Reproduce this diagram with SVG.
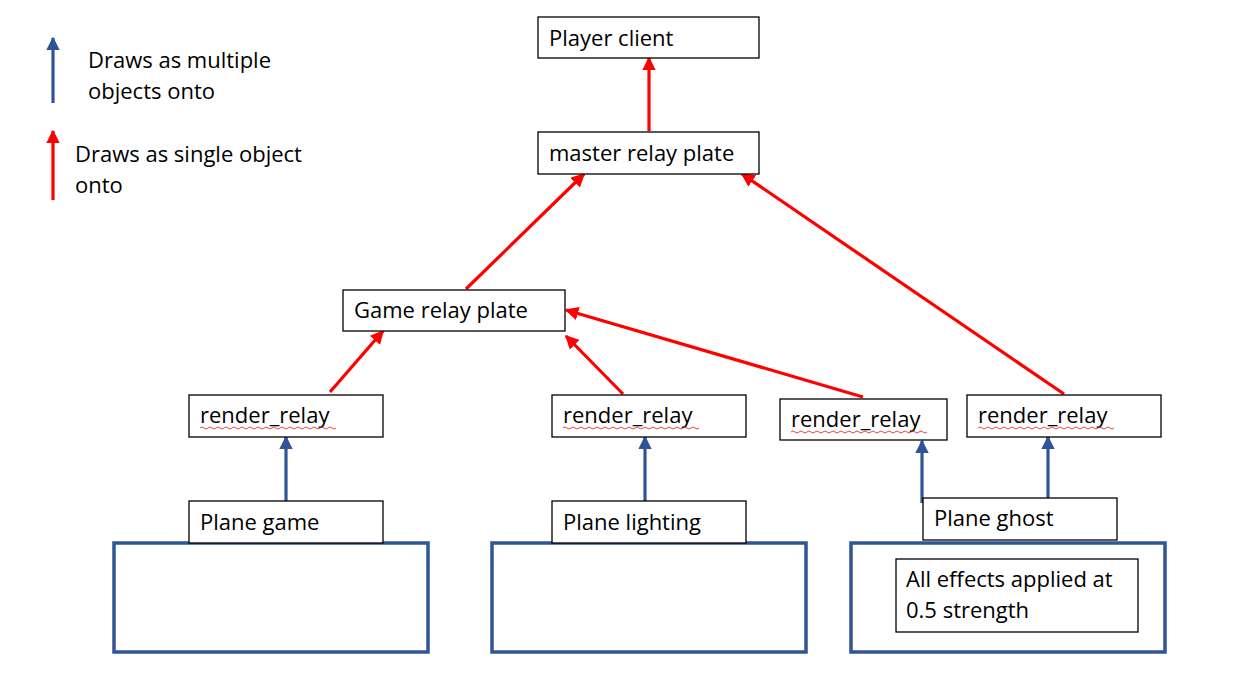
<svg xmlns="http://www.w3.org/2000/svg" width="1239" height="687" viewBox="0 0 1239 687">
<style>
  .box{fill:#fff;stroke:#000;stroke-width:1.3}
  .big{fill:#fff;stroke:#2F5597;stroke-width:3.5}
  .t{font-family:"Open Sans","Liberation Sans",Arial,sans-serif;font-size:22px;fill:#000}
  .red{stroke:#FF0000;stroke-width:3.2;fill:none}
  .blue{stroke:#2F5597;stroke-width:3.2;fill:none}
  .wavy{stroke:#E03030;stroke-width:0.9;fill:none}
</style>
<defs>
  <marker id="ar" viewBox="0 0 10 10" refX="9" refY="5" markerWidth="4.3" markerHeight="4.3" orient="auto" markerUnits="strokeWidth">
    <path d="M0,0 L10,5 L0,10 z" fill="#FF0000"/>
  </marker>
  <marker id="ab" viewBox="0 0 10 10" refX="9" refY="5" markerWidth="4.3" markerHeight="4.3" orient="auto" markerUnits="strokeWidth">
    <path d="M0,0 L10,5 L0,10 z" fill="#2F5597"/>
  </marker>
</defs>
<rect width="1239" height="687" fill="#fff"/>

<g id="legend">
  <line class="blue" x1="53" y1="103" x2="53" y2="38" marker-end="url(#ab)"/>
  <text class="t" x="88" y="68">Draws as multiple</text>
  <text class="t" x="88" y="99">objects onto</text>
  <line class="red" x1="53" y1="200" x2="53" y2="131" marker-end="url(#ar)"/>
  <text class="t" x="75" y="162">Draws as single object</text>
  <text class="t" x="75" y="193">onto</text>
</g>

<g id="plane-game-area"><rect class="big" x="114" y="543" width="314" height="109"/></g>
<g id="plane-lighting-area"><rect class="big" x="492" y="543" width="314" height="109"/></g>
<g id="plane-ghost-area"><rect class="big" x="851" y="543" width="314" height="109"/></g>

<g id="connectors">
  <line class="red" x1="649" y1="131" x2="649" y2="58" marker-end="url(#ar)"/>
  <line class="red" x1="466" y1="289" x2="584" y2="174" marker-end="url(#ar)"/>
  <line class="red" x1="1064" y1="394" x2="742" y2="174" marker-end="url(#ar)"/>
  <line class="red" x1="330" y1="392" x2="383" y2="331" marker-end="url(#ar)"/>
  <line class="red" x1="623" y1="394" x2="566" y2="336" marker-end="url(#ar)"/>
  <line class="red" x1="863" y1="397" x2="566" y2="310" marker-end="url(#ar)"/>
  <line class="blue" x1="286" y1="501" x2="286" y2="437" marker-end="url(#ab)"/>
  <line class="blue" x1="645" y1="501" x2="645" y2="437" marker-end="url(#ab)"/>
  <line class="blue" x1="922" y1="503" x2="922" y2="441" marker-end="url(#ab)"/>
  <line class="blue" x1="1048" y1="500" x2="1048" y2="437" marker-end="url(#ab)"/>
</g>

<g id="player-client"><rect class="box" x="538" y="17" width="221" height="41"/><text class="t" x="549" y="46">Player client</text></g>
<g id="master-relay-plate"><rect class="box" x="538" y="132" width="221" height="42"/><text class="t" x="549" y="161">master relay plate</text></g>
<g id="game-relay-plate"><rect class="box" x="343" y="290" width="222" height="41"/><text class="t" x="354" y="318">Game relay plate</text></g>

<g id="render-relay-1"><rect class="box" x="189" y="395" width="194" height="42"/><text class="t" x="200" y="423">render_relay</text>
  <path class="wavy" d="M200,428 q2,-2 4,0 t4,0 t4,0 t4,0 t4,0 t4,0 t4,0 t4,0 t4,0 t4,0 t4,0 t4,0 t4,0 t4,0 t4,0 t4,0 t4,0 t4,0 t4,0 t4,0 t4,0 t4,0 t4,0 t4,0 t4,0 t4,0 t4,0 t4,0 t4,0 t4,0 t4,0 t4,0 t4,0 t4,0"/></g>
<g id="render-relay-2"><rect class="box" x="552" y="395" width="194" height="42"/><text class="t" x="563" y="423">render_relay</text>
  <path class="wavy" d="M563,428 q2,-2 4,0 t4,0 t4,0 t4,0 t4,0 t4,0 t4,0 t4,0 t4,0 t4,0 t4,0 t4,0 t4,0 t4,0 t4,0 t4,0 t4,0 t4,0 t4,0 t4,0 t4,0 t4,0 t4,0 t4,0 t4,0 t4,0 t4,0 t4,0 t4,0 t4,0 t4,0 t4,0 t4,0 t4,0"/></g>
<g id="render-relay-3"><rect class="box" x="780" y="399" width="167" height="41"/><text class="t" x="791" y="427">render_relay</text>
  <path class="wavy" d="M791,432 q2,-2 4,0 t4,0 t4,0 t4,0 t4,0 t4,0 t4,0 t4,0 t4,0 t4,0 t4,0 t4,0 t4,0 t4,0 t4,0 t4,0 t4,0 t4,0 t4,0 t4,0 t4,0 t4,0 t4,0 t4,0 t4,0 t4,0 t4,0 t4,0 t4,0 t4,0 t4,0 t4,0 t4,0 t4,0"/></g>
<g id="render-relay-4"><rect class="box" x="967" y="395" width="194" height="42"/><text class="t" x="978" y="423">render_relay</text>
  <path class="wavy" d="M978,428 q2,-2 4,0 t4,0 t4,0 t4,0 t4,0 t4,0 t4,0 t4,0 t4,0 t4,0 t4,0 t4,0 t4,0 t4,0 t4,0 t4,0 t4,0 t4,0 t4,0 t4,0 t4,0 t4,0 t4,0 t4,0 t4,0 t4,0 t4,0 t4,0 t4,0 t4,0 t4,0 t4,0 t4,0 t4,0"/></g>

<g id="plane-game"><rect class="box" x="189" y="501" width="194" height="42"/><text class="t" x="200" y="530">Plane game</text></g>
<g id="plane-lighting"><rect class="box" x="552" y="501" width="194" height="42"/><text class="t" x="563" y="530">Plane lighting</text></g>
<g id="plane-ghost"><rect class="box" x="923" y="498" width="194" height="42"/><text class="t" x="934" y="526">Plane ghost</text></g>
<g id="ghost-note"><rect class="box" x="896" y="559" width="242" height="73"/><text class="t" x="906" y="587">All effects applied at</text><text class="t" x="906" y="618">0.5 strength</text></g>
</svg>
